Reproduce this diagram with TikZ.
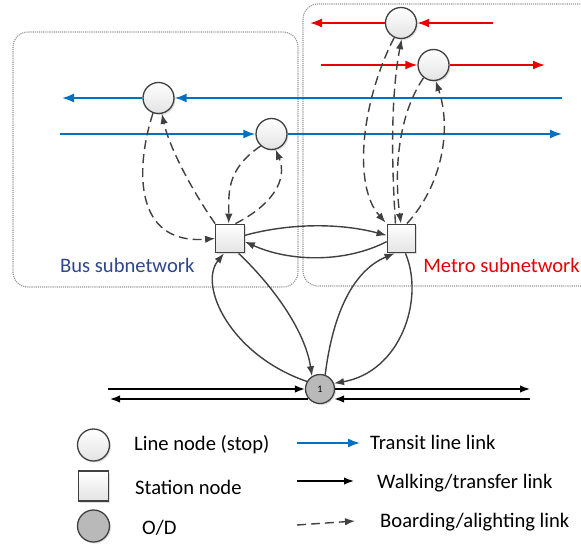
\documentclass[tikz,border=0pt]{standalone}
\usepackage{fontspec}
\setmainfont{Carlito}
\usetikzlibrary{arrows.meta,shadows,calc}
\definecolor{tblue}{RGB}{0,112,192}
\definecolor{tred}{RGB}{232,0,0}
\definecolor{busblue}{RGB}{47,70,140}
\definecolor{lk}{RGB}{64,64,64}
\begin{document}
\begin{tikzpicture}[x=1pt,y=-1pt,
  linenode/.style={circle, draw=lk, line width=1.3pt, minimum size=31pt, inner sep=0pt,
    top color=white, bottom color=gray!22,
    drop shadow={opacity=0.25,shadow xshift=1.5pt,shadow yshift=-1.5pt}},
  station/.style={rectangle, draw=lk, line width=1.3pt, minimum size=28.5pt, inner sep=0pt,
    top color=white, bottom color=gray!22,
    drop shadow={opacity=0.25,shadow xshift=1.5pt,shadow yshift=-1.5pt}},
  odnode/.style={circle, draw=lk, line width=1.3pt, minimum size=29pt, inner sep=0pt,
    fill=gray!55, drop shadow={opacity=0.25,shadow xshift=1.5pt,shadow yshift=-1.5pt}},
  subbox/.style={draw=gray!85, densely dotted, line width=1.1pt, rounded corners=15pt},
  transit/.style={draw=tblue, line width=1.8pt, -{Latex[length=12pt,width=9pt]}},
  metro/.style={draw=tred, line width=1.8pt, -{Latex[length=12pt,width=9pt]}},
  walk/.style={draw=lk, line width=1.4pt, -{Latex[length=10pt,width=7.5pt]}},
  odlink/.style={draw=black, line width=1.5pt, -{Latex[length=10pt,width=7.5pt]}},
  board/.style={draw=lk, line width=1.4pt, dash pattern=on 9pt off 5pt, -{Latex[length=10pt,width=7.5pt]}},
  lbl/.style={font=\fontsize{20.6}{24}\selectfont, inner sep=0pt, anchor=west}
]
\clip (0,0) rectangle (581,549);
\useasboundingbox (0,0) rectangle (581,549);

% subnetwork boxes
\draw[subbox] (13,32) rectangle (298,287);
\draw[subbox] (303,4) rectangle (620,286);
\node[lbl, text=busblue] (busl) at (60,265) {Bus subnetwork};
\node[lbl, text=tred, anchor=east] (metrol) at (580,265) {Metro subnetwork};

% nodes
\node[linenode] (A) at (158.5,98) {};
\node[linenode] (B) at (271.5,134) {};
\node[linenode] (C) at (401,23) {};
\node[linenode] (D) at (433.5,65) {};
\node[station] (S1) at (230,238.5) {};
\node[station] (S2) at (401.5,238.5) {};
\node[odnode] (O) at (320,389) {\fontsize{10}{10}\selectfont 1};

% transit line links
\coordinate (b1r) at (562,98); \coordinate (b1l) at (62,98);
\coordinate (b2l) at (60,134); \coordinate (b2r) at (562,134);
\draw[transit] (b1r) -- (A.east);
\draw[transit] (A.west) -- (b1l);
\draw[transit] (b2l) -- (B.west);
\draw[transit] (B.east) -- (b2r);
\coordinate (r1r) at (493,23); \coordinate (r1l) at (310,23);
\coordinate (r2l) at (321,65); \coordinate (r2r) at (545,65);
\draw[metro] (r1r) -- (C.east);
\draw[metro] (C.west) -- (r1l);
\draw[metro] (r2l) -- (D.west);
\draw[metro] (D.east) -- (r2r);

% boarding / alighting (bus)
\draw[board] (A.250) .. controls (136,165) and (132,245) .. (S1.west);
\draw[board] (S1.north west) .. controls (195,195) and (170,150) .. (A.282);
\draw[board] (B.228) .. controls (225,170) and (229,195) .. (S1.95);
\draw[board] (S1.70) .. controls (272,205) and (288,180) .. (B.285);
% boarding / alighting (metro)
\draw[board] (C.245) .. controls (362,100) and (352,185) .. ($(S2.north west)+(-1,-1)$);
\draw[board] (S2.112) .. controls (392,170) and (390,100) .. (C.272);
\draw[board] (D.232) .. controls (395,120) and (395,180) .. (S2.92);
\draw[board] (S2.70) .. controls (442,185) and (452,130) .. (D.278);

% walking / transfer links
\draw[walk] (S1.12) .. controls (290,223) and (340,223) .. (S2.168);
\draw[walk] (S2.192) .. controls (345,263) and (290,262) .. (S1.348);
\draw[walk] (O.150) .. controls (230,355) and (198,285) .. (S1.248);
\draw[walk] (S1.300) .. controls (272,285) and (305,330) .. (O.122);
\draw[walk] (O.70) .. controls (332,320) and (350,272) .. (S2.245);
\draw[walk] (S2.285) .. controls (425,300) and (400,372) .. (O.22);

% O/D connectors
\coordinate (h1l) at (108,389); \coordinate (h1r) at (530,389);
\coordinate (h2l) at (110,399); \coordinate (h2r) at (530,399);
\draw[odlink] (h1l) -- (O.west);
\draw[odlink] (O.east) -- (h1r);
\draw[odlink] (h2r) -- ($(O.east)+(-1,10)$);
\draw[odlink] ($(O.west)+(3,10)$) -- (h2l);

% legend
\node[linenode, minimum size=32pt] (L1) at (93.5,445) {};
\node[station, minimum size=30pt] (L2) at (93.5,486) {};
\node[odnode, minimum size=32pt] (L3) at (93.5,526) {};
\node[lbl] (t1) at (134,445) {Line node (stop)};
\node[lbl] (t2) at (135,487) {Station node};
\node[lbl] (t3) at (142,528) {O/D};
\coordinate (a1s) at (297,443); \coordinate (a1e) at (360,443);
\coordinate (a2s) at (297,481); \coordinate (a2e) at (354,481);
\coordinate (a3s) at (297,525); \coordinate (a3e) at (355,521);
\draw[transit] (a1s) -- (a1e);
\draw[odlink] (a2s) -- (a2e);
\draw[board] (a3s) -- (a3e);
\node[lbl] (t4) at (370,442) {Transit line link};
\node[lbl] (t5) at (377,483) {Walking/transfer link};
\node[lbl] (t6) at (380,522) {Boarding/alighting link};
\end{tikzpicture}
\end{document}
